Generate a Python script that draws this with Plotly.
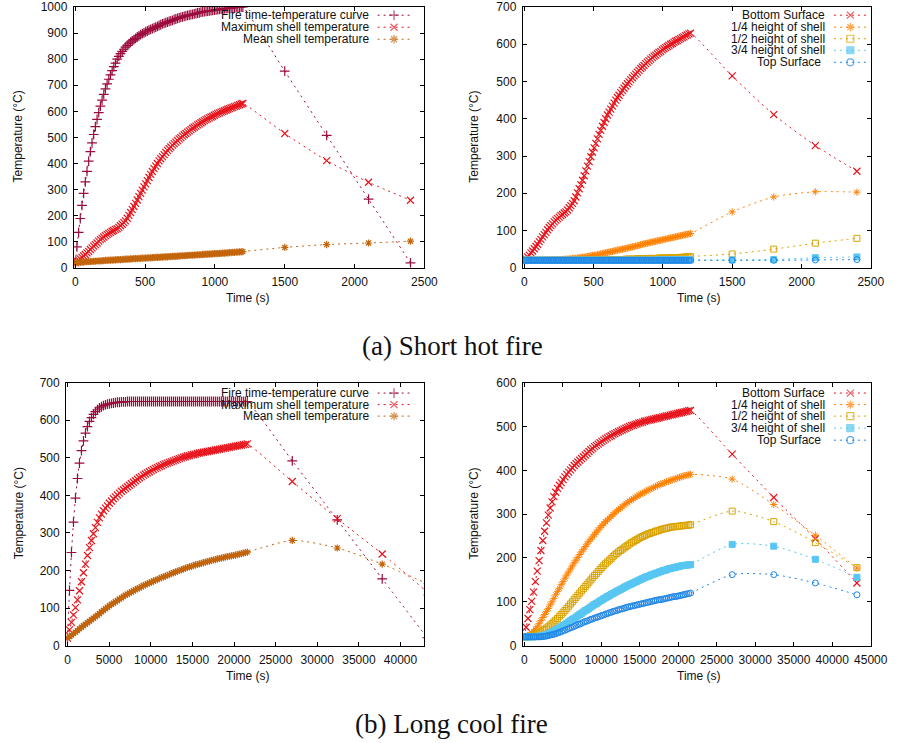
import plotly.graph_objects as go

W, H = 899, 743
# measured mapping of the page capture: picture x = 0.9825 * figure x, picture y = 7.83 + 0.979 * figure y
SX = W * W / 915.0
OY = 8 * H / 759.0
SY = H * H / 759.0


def fx(px):
    return min(1.0, px / SX)


def fy(py):
    return min(1.0, 1 - (py - OY) / SY)


# ---------------- sample times ----------------
t_a = list(range(0, 1201, 12)) + [1500, 1800, 2100, 2400]
t_b = list(range(0, 21601, 240)) + [27000, 32400, 37800, 43200]

# ---------------- (a) Short hot fire ----------------
fire_a = [20, 80, 136, 189, 239, 285, 329, 370, 409, 445,
          479, 511, 541, 569, 595, 620, 643, 665, 686, 705,
          723, 740, 756, 771, 785, 800, 811, 821, 830, 838,
          846, 853, 859, 865, 870, 875, 880, 885, 889, 894,
          898, 901, 905, 908, 911, 914, 917, 920, 923, 926,
          929, 932, 935, 937, 940, 942, 945, 947, 949, 952,
          954, 956, 958, 960, 962, 964, 966, 968, 969, 971,
          972, 974, 975, 977, 978, 980, 981, 982, 983, 984,
          985, 986, 987, 988, 989, 990, 991, 992, 993, 994,
          994, 995, 996, 996, 997, 998, 998, 999, 999, 1000, 1000,
          754, 508, 263, 19]

max_a = [20, 24, 29, 34, 40, 45, 51, 57, 63, 70,
         76, 83, 89, 95, 102, 108, 113, 118, 123, 128,
         132, 136, 140, 143, 147, 150, 155, 161, 167, 173,
         180, 190, 201, 212, 223, 235, 247, 260, 273, 285,
         298, 310, 322, 334, 346, 358, 369, 380, 390, 400,
         410, 418, 426, 434, 442, 450, 457, 463, 470, 476,
         482, 488, 494, 499, 505, 510, 515, 520, 525, 530,
         535, 539, 543, 548, 552, 556, 560, 564, 568, 571,
         575, 578, 581, 585, 588, 591, 594, 597, 600, 602,
         605, 608, 610, 613, 615, 618, 620, 623, 625, 628, 630,
         515, 411, 328, 259]

mean_a = [20, 20, 21, 21, 22, 22, 23, 23, 24, 24, 24,
          25, 25, 26, 26, 26, 27, 27, 28, 28, 29,
          29, 29, 30, 30, 31, 31, 31, 32, 32, 33,
          33, 33, 34, 34, 35, 35, 35, 36, 36, 37,
          37, 37, 38, 38, 38, 39, 39, 40, 40, 40,
          41, 41, 42, 42, 42, 43, 43, 44, 44, 44,
          45, 45, 46, 46, 46, 47, 47, 48, 48, 48,
          49, 49, 50, 50, 50, 51, 51, 52, 52, 52,
          53, 53, 54, 54, 54, 55, 55, 56, 56, 57,
          57, 58, 58, 59, 59, 60, 60, 61, 61, 62,
          78, 89, 95, 102]

bottom_a = max_a

quarter_a = [20, 20, 20, 20, 20, 20, 20, 20, 20, 20, 20,
             20, 20, 21, 21, 21, 21, 21, 21, 21, 22,
             22, 22, 22, 23, 23, 23, 24, 24, 25, 25,
             26, 26, 27, 27, 28, 29, 29, 30, 31, 32,
             33, 34, 34, 35, 36, 37, 38, 39, 40, 41,
             42, 43, 44, 45, 46, 47, 48, 49, 50, 51,
             52, 53, 54, 55, 56, 57, 58, 59, 60, 62,
             63, 64, 65, 66, 67, 68, 69, 70, 71, 72,
             73, 74, 75, 76, 77, 78, 79, 80, 81, 82,
             83, 84, 85, 86, 87, 88, 89, 90, 91, 92,
             150, 190, 204, 203]

half_a = [20, 20, 20, 20, 20, 20, 20, 20, 20, 20, 20,
          20, 20, 20, 20, 20, 20, 20, 20, 20, 20,
          20, 20, 20, 20, 20, 20, 20, 20, 20, 20,
          20, 20, 20, 20, 20, 20, 20, 20, 20, 20,
          21, 21, 21, 21, 21, 21, 21, 21, 21, 21,
          22, 22, 22, 22, 22, 22, 22, 22, 22, 22,
          23, 23, 23, 23, 23, 23, 23, 24, 24, 24,
          24, 24, 24, 24, 25, 25, 25, 25, 25, 25,
          26, 26, 26, 26, 26, 26, 26, 27, 27, 27,
          27, 27, 27, 28, 28, 28, 29, 29, 29, 30,
          37, 50, 66, 79]

threeq_a = [20, 20, 20, 20, 20, 20, 20, 20, 20, 20, 20,
            20, 20, 20, 20, 20, 20, 20, 20, 20, 20,
            20, 20, 20, 20, 20, 20, 20, 20, 20, 20,
            20, 20, 20, 20, 20, 20, 20, 20, 20, 20,
            20, 20, 20, 20, 20, 20, 20, 20, 20, 20,
            20, 20, 20, 20, 20, 20, 20, 20, 20, 20,
            20, 20, 20, 20, 20, 20, 20, 20, 20, 20,
            20, 20, 20, 20, 20, 20, 20, 20, 20, 20,
            21, 21, 21, 21, 21, 21, 21, 21, 21, 21,
            21, 21, 21, 21, 21, 21, 21, 21, 21, 21,
            21, 22, 27, 29]

top_a = [20, 20, 20, 20, 20, 20, 20, 20, 20, 20, 20,
         20, 20, 20, 20, 20, 20, 20, 20, 20, 20,
         20, 20, 20, 20, 20, 20, 20, 20, 20, 20,
         20, 20, 20, 20, 20, 20, 20, 20, 20, 20,
         20, 20, 20, 20, 20, 20, 20, 20, 20, 20,
         20, 20, 20, 20, 20, 20, 20, 20, 20, 20,
         20, 20, 20, 20, 20, 20, 20, 20, 20, 20,
         20, 20, 20, 20, 20, 20, 20, 20, 20, 20,
         20, 20, 20, 20, 20, 20, 20, 20, 20, 20,
         20, 20, 20, 20, 20, 20, 20, 20, 20, 20,
         20, 20, 21, 22]

# ---------------- (b) Long cool fire ----------------
fire_b = [20, 147, 248, 329, 393, 445, 486, 519, 545, 566,
          583, 597, 607, 616, 623, 628, 633, 636, 639, 641,
          643, 644, 645, 646, 647, 648, 648, 649, 649, 649,
          650, 650, 650, 650, 650, 650, 650, 650, 650, 650,
          650, 650, 650, 650, 650, 650, 650, 650, 650, 650,
          650, 650, 650, 650, 650, 650, 650, 650, 650, 650,
          650, 650, 650, 650, 650, 650, 650, 650, 650, 650,
          650, 650, 650, 650, 650, 650, 650, 650, 650, 650,
          650, 650, 650, 650, 650, 650, 650, 650, 650, 650, 650,
          492, 335, 178, 21]

max_b = [20, 42, 62, 82, 101, 122, 146, 170, 194, 217,
         240, 261, 280, 298, 314, 328, 340, 350, 359, 366,
         372, 379, 385, 391, 396, 401, 406, 411, 415, 419,
         423, 427, 431, 435, 439, 443, 447, 450, 454, 457,
         460, 463, 466, 469, 472, 474, 477, 479, 482, 484,
         486, 488, 490, 492, 494, 496, 498, 500, 502, 503,
         505, 506, 508, 509, 510, 512, 513, 514, 515, 516,
         517, 518, 519, 520, 521, 522, 523, 524, 525, 526,
         527, 528, 529, 530, 531, 532, 533, 534, 535, 536, 537,
         437, 338, 244, 143]

mean_b = [20, 24, 28, 32, 36, 40, 45, 49, 53, 57,
          61, 65, 69, 73, 77, 81, 85, 90, 94, 98,
          102, 106, 110, 113, 117, 120, 124, 127, 131, 134,
          137, 140, 143, 146, 149, 152, 154, 157, 160, 162,
          165, 167, 169, 172, 174, 176, 179, 181, 183, 185,
          187, 189, 192, 194, 196, 198, 200, 202, 204, 206,
          208, 210, 211, 213, 215, 216, 218, 219, 221, 222,
          224, 225, 227, 228, 229, 231, 232, 233, 234, 236,
          237, 238, 239, 240, 241, 242, 244, 245, 246, 248, 249,
          280, 260, 217, 165]

bottom_b = max_b

quarter_b = [20, 21, 23, 25, 28, 32, 37, 43, 50, 57,
             64, 71, 78, 85, 93, 100, 108, 116, 124, 131,
             139, 146, 154, 161, 168, 175, 182, 189, 195, 201,
             208, 214, 220, 226, 232, 238, 243, 248, 254, 259,
             264, 269, 274, 278, 283, 287, 291, 295, 299, 303,
             307, 310, 314, 317, 321, 324, 327, 330, 333, 335,
             338, 341, 343, 346, 348, 350, 353, 355, 357, 359,
             361, 363, 365, 367, 369, 370, 372, 374, 375, 377,
             378, 380, 381, 383, 384, 385, 387, 388, 389, 390, 391,
             380, 322, 252, 177]

half_b = [20, 20, 21, 21, 22, 24, 26, 28, 30, 32,
          35, 37, 40, 43, 47, 50, 54, 58, 62, 67,
          71, 76, 80, 85, 90, 95, 100, 105, 110, 115,
          120, 125, 130, 135, 140, 145, 150, 155, 160, 164,
          169, 174, 178, 183, 187, 191, 195, 199, 203, 207,
          210, 214, 217, 220, 223, 226, 229, 232, 235, 237,
          240, 242, 245, 247, 249, 251, 253, 255, 256, 258,
          259, 261, 262, 263, 265, 266, 267, 268, 269, 270,
          271, 271, 272, 272, 273, 273, 274, 274, 275, 275, 276,
          307, 283, 235, 178]

threeq_b = [20, 20, 20, 20, 20, 20, 21, 21, 21, 22,
            23, 24, 25, 27, 29, 31, 33, 35, 38, 40,
            43, 46, 48, 51, 54, 57, 60, 62, 65, 68,
            71, 74, 77, 80, 82, 85, 88, 91, 94, 96,
            99, 102, 104, 107, 109, 112, 114, 117, 119, 121,
            124, 126, 128, 130, 133, 135, 137, 139, 141, 143,
            145, 147, 149, 151, 153, 155, 157, 158, 160, 162,
            163, 165, 166, 168, 169, 171, 172, 173, 175, 176,
            177, 178, 179, 180, 181, 182, 183, 183, 184, 184, 185,
            231, 227, 197, 156]

top_b = [20, 20, 20, 20, 20, 20, 20, 20, 20, 20,
         21, 21, 22, 23, 24, 25, 26, 27, 29, 30,
         32, 34, 35, 37, 39, 41, 42, 44, 46, 48,
         49, 51, 53, 55, 56, 58, 60, 61, 63, 64,
         66, 67, 69, 70, 72, 73, 75, 76, 78, 79,
         80, 82, 83, 84, 85, 87, 88, 89, 90, 91,
         92, 93, 94, 95, 96, 97, 98, 99, 100, 101,
         102, 103, 104, 105, 105, 106, 107, 108, 109, 110,
         111, 112, 112, 113, 114, 115, 116, 117, 118, 119, 120,
         162, 162, 143, 116]

# ---------------- labels ----------------
leg_left = ["Fire time-temperature curve", "Maximum shell temperature", "Mean shell temperature"]
leg_right = ["Bottom Surface", "1/4 height of shell", "1/2 height of shell", "3/4 height of shell", "Top Surface"]
captions = ["(a) Short hot fire", "(b) Long cool fire"]
xtitle = "Time (s)"
ytitle = "Temperature (°C)"

C_FIRE, C_MAX, C_MEAN = "#9b0c3e", "#e8141c", "#c3650c"
C_Q1, C_Q2, C_Q3, C_TOP = "#ff8205", "#d9a300", "#58c6f2", "#1f86e6"

SANS = "Liberation Sans, Arial, sans-serif"

fig = go.Figure()


def series(xa, ya, t, v, color, symbol, size=6, lw=1):
    assert len(t) == len(v), (len(t), len(v))
    fig.add_trace(go.Scatter(
        x=t, y=v, xaxis=xa, yaxis=ya, mode="lines+markers",
        line=dict(color=color, width=1, dash="2px,4px", shape="spline", smoothing=0.7),
        marker=dict(symbol=symbol, size=size, color=color, line=dict(color=color, width=lw)),
        showlegend=False, hoverinfo="skip"))


left_sets = [("x", "y", t_a, [fire_a, max_a, mean_a]),
             ("x3", "y3", t_b, [fire_b, max_b, mean_b])]
left_style = [(C_FIRE, "cross-thin-open"), (C_MAX, "x-thin-open"), (C_MEAN, "asterisk-open")]
right_sets = [("x2", "y2", t_a, [bottom_a, quarter_a, half_a, threeq_a, top_a]),
              ("x4", "y4", t_b, [bottom_b, quarter_b, half_b, threeq_b, top_b])]
right_style = [(C_MAX, "x-thin-open"), (C_Q1, "asterisk-open"), (C_Q2, "square-open"),
               (C_Q3, "square"), (C_TOP, "circle-open")]

for xa, ya, t, data in left_sets:
    for v, (c, s) in zip(data, left_style):
        series(xa, ya, t, v, c, s, size=7 if s != "asterisk-open" else 6, lw=1.2)
for xa, ya, t, data in right_sets:
    for v, (c, s) in zip(data, right_style):
        series(xa, ya, t, v, c, s, size=6 if s != "x-thin-open" else 7, lw=1.2 if s == "x-thin-open" else 1)

# ---------------- axes ----------------
def ax(**kw):
    d = dict(showline=True, linecolor="black", linewidth=1, mirror="ticks", ticks="inside",
             ticklen=4, tickcolor="black", tickwidth=1, showgrid=False, zeroline=False,
             tickformat="d", tickfont=dict(family=SANS, size=12, color="#111"), ticklabelstandoff=3)
    d.update(kw)
    return d

dxL1 = [fx(72), fx(424)]
dxL2 = [fx(64.3), fx(424)]
dxR = [fx(522.7), fx(872)]
dyT = [fy(268), fy(6)]
dyB = [fy(645), fy(382.7)]

fig.update_layout(
    xaxis=ax(domain=dxL1, range=[-11, 2500], tick0=0, dtick=500, anchor="y"),
    yaxis=ax(domain=dyT, range=[0, 1000], tick0=0, dtick=100, anchor="x"),
    xaxis2=ax(domain=dxR, range=[-11, 2500], tick0=0, dtick=500, anchor="y2"),
    yaxis2=ax(domain=dyT, range=[0, 700], tick0=0, dtick=100, anchor="x2"),
    xaxis3=ax(domain=dxL2, range=[-170, 42870], tick0=0, dtick=5000, anchor="y3"),
    yaxis3=ax(domain=dyB, range=[0, 700], tick0=0, dtick=100, anchor="x3"),
    xaxis4=ax(domain=dxR, range=[-200, 45000], tick0=0, dtick=5000, anchor="y4"),
    yaxis4=ax(domain=dyB, range=[0, 600], tick0=0, dtick=100, anchor="x4"),
    # overlay frame in picture pixels, used only for the key samples
    xaxis5=dict(domain=[0, 1], range=[0, SX], visible=False, anchor="y5", fixedrange=True),
    yaxis5=dict(domain=[0, 1], range=[OY + SY, OY], visible=False, anchor="x5", fixedrange=True),
)

# ---------------- key (gnuplot style: text, then sample) ----------------
ann = []

def key(labels, styles, text_right, y_rows, x0, x1, shifts=None):
    for i, (lab, (c, s), yy) in enumerate(zip(labels, styles, y_rows)):
        dx = shifts[i] if shifts else 0
        ann.append(dict(text=lab, x=fx(text_right + dx), y=fy(yy), xref="paper", yref="paper",
                        xanchor="right", yanchor="middle", showarrow=False,
                        font=dict(family=SANS, size=12, color="#111")))
        fig.add_trace(go.Scatter(
            x=[x0, (x0 + x1) / 2, x1], y=[yy, yy, yy], xaxis="x5", yaxis="y5", mode="lines+markers",
            line=dict(color=c, width=1, dash="2px,4px"),
            marker=dict(symbol=s, size=[0, 7, 0], color=c, line=dict(color=c, width=1.2)),
            showlegend=False, hoverinfo="skip"))

key(leg_left, left_style, 370, [16, 28, 40], 377, 410)
key(leg_right, right_style, 828, [16, 28, 39.5, 51, 63], 835, 868, shifts=[0, 0, 0, 0, -4])
key(leg_left, left_style, 370, [393, 404.5, 416], 377, 410)
key(leg_right, right_style, 828, [393, 404.5, 416, 428, 440], 835, 868, shifts=[0, 0, 0, 0, -4])

# axis titles
for cx, cy in [(247, 298), (700, 298), (247, 675), (700, 675)]:
    ann.append(dict(text=xtitle, x=fx(cx), y=fy(cy), xref="paper", yref="paper",
                    xanchor="center", yanchor="middle", showarrow=False,
                    font=dict(family=SANS, size=12, color="#111")))
for cx, cy in [(17, 137), (474, 137), (17, 513), (474, 513)]:
    ann.append(dict(text=ytitle, x=fx(cx), y=fy(cy), xref="paper", yref="paper",
                    xanchor="center", yanchor="middle", showarrow=False, textangle=-90,
                    font=dict(family=SANS, size=12, color="#111")))

# captions
for txt, cx, cy in [(captions[0], 452, 346), (captions[1], 451, 723)]:
    ann.append(dict(text=txt, x=fx(cx), y=fy(cy), xref="paper", yref="paper",
                    xanchor="center", yanchor="middle", showarrow=False,
                    font=dict(family="Liberation Serif, Times New Roman, serif", size=27, color="#111")))

fig.update_layout(
    width=W, height=H, margin=dict(l=0, r=0, t=0, b=0),
    paper_bgcolor="white", plot_bgcolor="rgba(0,0,0,0)",
    annotations=ann, showlegend=False,
)

fig.write_html("out.html", config={"displayModeBar": False})
